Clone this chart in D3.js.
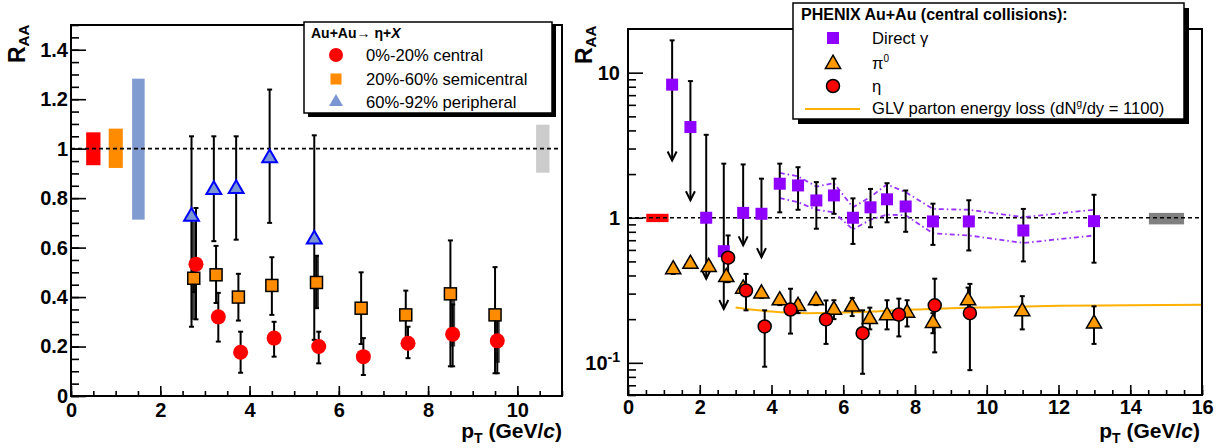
<!DOCTYPE html>
<html><head><meta charset="utf-8">
<script src="https://cdn.jsdelivr.net/npm/d3@7"></script>
<style>
body{margin:0;background:#fff}
svg{display:block}
text{font-family:"Liberation Sans",Arial,Helvetica,sans-serif}
</style>
</head><body>
<svg id="c" width="1223" height="448"></svg>
<script>
// ---------------- LEFT PANEL DATA (Au+Au -> eta + X) ----------------
const centralX  = [2.8, 3.3, 3.8, 4.55, 5.55, 6.55, 7.55, 8.55, 9.55];
const centralY  = [0.533, 0.32, 0.177, 0.234, 0.2, 0.159, 0.213, 0.25, 0.223];
const centralLo = [0.31, 0.22, 0.094, 0.159, 0.132, 0.085, 0.153, 0.12, 0.092];
const centralHi = [0.76, 0.417, 0.26, 0.30, 0.26, 0.234, 0.28, 0.37, 0.33];

const semiX  = [2.75, 3.25, 3.75, 4.5, 5.5, 6.5, 7.5, 8.5, 9.5];
const semiY  = [0.476, 0.49, 0.40, 0.447, 0.459, 0.355, 0.328, 0.413, 0.328];
const semiLo = [0.42, 0.376, 0.305, 0.328, 0.355, 0.21, 0.227, 0.12, 0.092];
const semiHi = [0.53, 0.607, 0.494, 0.561, 0.567, 0.50, 0.426, 0.629, 0.521];

const periphX  = [2.7, 3.2, 3.7, 4.45, 5.45];
const periphY  = [0.726, 0.834, 0.838, 0.962, 0.634];
const periphLo = [0.28, 0.626, 0.632, 0.70, 0.227];
const periphHi = [1.05, 1.05, 1.05, 1.239, 1.054];

// systematic (thick) bars
const sysX  = [2.74, 5.5, 8.55, 9.55];
const sysLo = [0.308, 0.355, 0.20, 0.134];
const sysHi = [0.705, 0.567, 0.40, 0.348];

// global normalisation boxes (x-range, y-range)
const normBoxX0 = [0.34, 0.845, 1.37, 10.42];
const normBoxX1 = [0.66, 1.16, 1.65, 10.72];
const normBoxY0 = [0.933, 0.922, 0.713, 0.903];
const normBoxY1 = [1.066, 1.081, 1.283, 1.097];
const normBoxColor = ["#ff0000", "#ff8c00", "#7f9bd0", "#cccccc"];

const leftXTicks = [0, 2, 4, 6, 8, 10];
const leftYTicks = [0, 0.2, 0.4, 0.6, 0.8, 1, 1.2, 1.4];
const leftLegendLabels = ["0%-20% central", "20%-60% semicentral", "60%-92% peripheral"];

// ---------------- RIGHT PANEL DATA (PHENIX Au+Au central) ----------------
const gammaX  = [1.23, 1.74, 2.18, 2.67, 3.21, 3.72, 4.23, 4.74, 5.25, 5.74, 6.27, 6.76, 7.22, 7.74, 8.5, 9.5, 11.02, 12.99];
const gammaY  = [8.27, 4.22, 1.0, 0.588, 1.08, 1.065, 1.716, 1.67, 1.316, 1.425, 1.0, 1.18, 1.34, 1.196, 0.943, 0.943, 0.817, 0.947];
const gammaHi = [16.7, 8.75, 3.73, 2.36, 2.33, 1.86, 2.36, 2.23, 1.76, 1.86, 1.36, 1.58, 1.73, 1.54, 1.25, 1.32, 1.15, 1.44];
const gammaLo = [2.48, 1.32, 0.38, 0.235, 0.645, 0.535, 1.09, 1.135, 0.84, 1.065, 0.66, 0.86, 0.93, 0.80, 0.65, 0.595, 0.50, 0.49];
const gammaLimit = [1, 1, 1, 1, 1, 1, 0, 0, 0, 0, 0, 0, 0, 0, 0, 0, 0, 0];

const bandX  = [4.23, 4.74, 5.25, 5.74, 6.27, 6.76, 7.22, 7.74, 8.5, 9.5, 11.02, 12.99];
const bandHi = [2.04, 1.93, 1.64, 1.73, 1.18, 1.39, 1.70, 1.50, 1.15, 1.135, 1.01, 1.135];
const bandLo = [1.365, 1.28, 1.135, 1.09, 0.83, 0.97, 1.05, 1.04, 0.78, 0.755, 0.67, 0.755];

const pi0X  = [1.26, 1.74, 2.25, 2.74, 3.21, 3.72, 4.23, 4.74, 5.24, 5.74, 6.25, 6.74, 7.22, 7.78, 8.5, 9.48, 10.99, 12.99];
const pi0Y  = [0.44, 0.48, 0.457, 0.389, 0.324, 0.30, 0.269, 0.246, 0.269, 0.232, 0.244, 0.20, 0.212, 0.221, 0.188, 0.269, 0.226, 0.186];
const pi0Lo = [0.41, 0.45, 0.43, 0.36, 0.30, 0.28, 0.25, 0.22, 0.25, 0.20, 0.21, 0.17, 0.17, 0.178, 0.16, 0.22, 0.17, 0.135];
const pi0Hi = [0.47, 0.51, 0.49, 0.42, 0.35, 0.32, 0.29, 0.27, 0.29, 0.27, 0.28, 0.24, 0.27, 0.27, 0.22, 0.33, 0.288, 0.245];

const etaX  = [2.79, 3.29, 3.81, 4.53, 5.52, 6.54, 7.55, 8.55, 9.53];
const etaY  = [0.53, 0.315, 0.178, 0.233, 0.199, 0.16, 0.215, 0.249, 0.22];
const etaLo = [0.36, 0.23, 0.094, 0.159, 0.135, 0.084, 0.152, 0.118, 0.089];
const etaHi = [0.755, 0.41, 0.23, 0.324, 0.269, 0.23, 0.277, 0.38, 0.35];

const glvX = [3, 3.5, 4, 4.5, 5, 6, 7, 8, 9, 10, 12, 14, 16];
const glvY = [0.241, 0.232, 0.226, 0.222, 0.22, 0.222, 0.227, 0.233, 0.238, 0.241, 0.247, 0.249, 0.251];

const rightBoxX0 = [0.51, 14.52];
const rightBoxX1 = [1.13, 15.5];
const rightBoxY0 = [0.933, 0.90];
const rightBoxY1 = [1.065, 1.08];
const rightBoxColor = ["#ff0000", "#808080"];

const rightXTicks = [0, 2, 4, 6, 8, 10, 12, 14, 16];
const rightYTicks = [0.1, 1, 10];

// ---------------- DRAWING ----------------
const svg = d3.select("#c");
svg.append("rect").attr("width", 1223).attr("height", 448).attr("fill", "#fff");

function styleAxis(g, size) {
  g.attr("font-size", size).attr("font-weight", "bold")
   .attr("font-family", '"Liberation Sans",Arial,sans-serif');
  g.select(".domain").remove();
  g.selectAll(".tick line").attr("stroke", "#000").attr("stroke-width", 1.6);
  g.selectAll(".tick text").attr("fill", "#000");
}

function errorBars(g, xs, ys, lo, hi, x, y, cap) {
  const grp = g.append("g").attr("stroke", "#000").attr("stroke-width", 2);
  xs.forEach((d, i) => {
    grp.append("line").attr("x1", x(d)).attr("x2", x(d)).attr("y1", y(hi[i])).attr("y2", y(lo[i]));
    grp.append("line").attr("x1", x(d) - cap).attr("x2", x(d) + cap).attr("y1", y(hi[i])).attr("y2", y(hi[i]));
    grp.append("line").attr("x1", x(d) - cap).attr("x2", x(d) + cap).attr("y1", y(lo[i])).attr("y2", y(lo[i]));
  });
}

// ======== LEFT ========
const xL = d3.scaleLinear().domain([0, 11]).range([71, 562]);
const yL = d3.scaleLinear().domain([0, 1.5]).range([396, 25]);
const gL = svg.append("g");

normBoxX0.forEach((d, i) => {
  gL.append("rect").attr("x", xL(d)).attr("y", yL(normBoxY1[i]))
    .attr("width", xL(normBoxX1[i]) - xL(d)).attr("height", yL(normBoxY0[i]) - yL(normBoxY1[i]))
    .attr("fill", normBoxColor[i]);
});
gL.append("line").attr("x1", xL(0)).attr("x2", xL(11)).attr("y1", yL(1)).attr("y2", yL(1))
  .attr("stroke", "#000").attr("stroke-width", 1.6).attr("stroke-dasharray", "4,3");

sysX.forEach((d, i) => {
  gL.append("line").attr("x1", xL(d)).attr("x2", xL(d)).attr("y1", yL(sysHi[i])).attr("y2", yL(sysLo[i]))
    .attr("stroke", "#444").attr("stroke-width", 5);
});

errorBars(gL, periphX, periphY, periphLo, periphHi, xL, yL, 2.5);
errorBars(gL, semiX, semiY, semiLo, semiHi, xL, yL, 2.5);
errorBars(gL, centralX, centralY, centralLo, centralHi, xL, yL, 2.5);

const triL = d3.symbol().type(d3.symbolTriangle).size(95);
gL.append("g").selectAll("path").data(periphX).join("path")
  .attr("d", triL).attr("transform", (d, i) => `translate(${xL(d)},${yL(periphY[i])})`)
  .attr("fill", "#7b96d2").attr("stroke", "#0000ff").attr("stroke-width", 2);
gL.append("g").selectAll("rect").data(semiX).join("rect")
  .attr("x", d => xL(d) - 6).attr("y", (d, i) => yL(semiY[i]) - 6).attr("width", 12).attr("height", 12)
  .attr("fill", "#ff8c00").attr("stroke", "#000").attr("stroke-width", 1.5);
gL.append("g").selectAll("circle").data(centralX).join("circle")
  .attr("cx", d => xL(d)).attr("cy", (d, i) => yL(centralY[i])).attr("r", 7.5)
  .attr("fill", "#ff0000");

gL.append("g").attr("transform", "translate(0,396)")
  .call(d3.axisBottom(xL).tickValues(d3.range(0, 11.01, 0.5)).tickSize(-5).tickFormat(""))
  .call(g => styleAxis(g, 20));
gL.append("g").attr("transform", "translate(0,396)")
  .call(d3.axisBottom(xL).tickValues(leftXTicks).tickSize(-10).tickPadding(7).tickFormat(d3.format("d")))
  .call(g => styleAxis(g, 20));
gL.append("g").attr("transform", "translate(71,0)")
  .call(d3.axisLeft(yL).tickValues(d3.range(0, 1.501, 0.05)).tickSize(-8).tickFormat(""))
  .call(g => styleAxis(g, 20));
gL.append("g").attr("transform", "translate(71,0)")
  .call(d3.axisLeft(yL).tickValues(leftYTicks).tickSize(-15).tickPadding(3).tickFormat(d3.format("~g")))
  .call(g => styleAxis(g, 20));

gL.append("rect").attr("x", 71).attr("y", 25).attr("width", 491).attr("height", 371)
  .attr("fill", "none").attr("stroke", "#000").attr("stroke-width", 2);

function raa(g, x, y) {
  const t = g.append("text").attr("transform", `translate(${x},${y}) rotate(-90)`)
    .attr("font-weight", "bold").attr("font-size", 23).attr("fill", "#000");
  t.append("tspan").text("R");
  t.append("tspan").attr("font-size", 15).attr("dy", 4).text("AA");
}
function ptLabel(g, xEnd, y) {
  const t = g.append("text").attr("x", xEnd).attr("y", y).attr("text-anchor", "end")
    .attr("font-weight", "bold").attr("font-size", 21).attr("fill", "#000");
  t.append("tspan").text("p");
  t.append("tspan").attr("font-size", 14).attr("dy", 5).text("T");
  t.append("tspan").attr("dy", -5).text(" (GeV/");
  t.append("tspan").attr("font-style", "italic").text("c");
  t.append("tspan").text(")");
}
raa(gL, 25, 63);
ptLabel(gL, 562, 438);

// legend
const lgL = gL.append("g");
lgL.append("rect").attr("x", 308).attr("y", 26).attr("width", 248).attr("height", 91).attr("fill", "#000");
lgL.append("rect").attr("x", 304).attr("y", 22).attr("width", 248).attr("height", 91)
  .attr("fill", "#fff").attr("stroke", "#000").attr("stroke-width", 1.5);
const ttl = lgL.append("text").attr("x", 311).attr("y", 38).attr("font-size", 14).attr("font-weight", "bold").attr("fill", "#000");
ttl.append("tspan").text("Au+Au→ η+");
ttl.append("tspan").attr("font-style", "italic").text("X");
const legYL = [55, 79, 102];
lgL.append("circle").attr("cx", 336).attr("cy", legYL[0]).attr("r", 7).attr("fill", "#ff0000");
lgL.append("rect").attr("x", 330.5).attr("y", legYL[1] - 5.5).attr("width", 11).attr("height", 11).attr("fill", "#ff8c00");
lgL.append("path").attr("d", d3.symbol().type(d3.symbolTriangle).size(85)).attr("transform", `translate(336,${legYL[2]})`).attr("fill", "#7b96d2");
leftLegendLabels.forEach((s, i) => {
  lgL.append("text").attr("x", 366).attr("y", legYL[i] + 6).attr("font-size", 16.6).attr("fill", "#000").text(s);
});

// ======== RIGHT ========
const xR = d3.scaleLinear().domain([0, 16]).range([628, 1202]);
const yR = d3.scaleLog().domain([0.06, 20]).range([395, 29]);
const gR = svg.append("g");

rightBoxX0.forEach((d, i) => {
  gR.append("rect").attr("x", xR(d)).attr("y", yR(rightBoxY1[i]))
    .attr("width", xR(rightBoxX1[i]) - xR(d)).attr("height", yR(rightBoxY0[i]) - yR(rightBoxY1[i]))
    .attr("fill", rightBoxColor[i]);
});
gR.append("line").attr("x1", xR(0)).attr("x2", xR(16)).attr("y1", yR(1)).attr("y2", yR(1))
  .attr("stroke", "#000").attr("stroke-width", 1.6).attr("stroke-dasharray", "4,3");

const bandLine = d3.line().x(d => xR(d[0])).y(d => yR(d[1]));
[bandHi, bandLo].forEach(arr => {
  gR.append("path").attr("d", bandLine(bandX.map((d, i) => [d, arr[i]])))
    .attr("fill", "none").attr("stroke", "#9933ff").attr("stroke-width", 1.8).attr("stroke-dasharray", "5,3,1.5,3");
});

gR.append("path").attr("d", d3.line().curve(d3.curveMonotoneX).x(d => xR(d[0])).y(d => yR(d[1]))(glvX.map((d, i) => [d, glvY[i]])))
  .attr("fill", "none").attr("stroke", "#ffb000").attr("stroke-width", 2);

const ge = gR.append("g").attr("stroke", "#000").attr("stroke-width", 2).attr("fill", "none");
gammaX.forEach((d, i) => {
  const x = xR(d), yh = yR(gammaHi[i]), yl = yR(gammaLo[i]);
  ge.append("line").attr("x1", x).attr("x2", x).attr("y1", yh).attr("y2", yl);
  ge.append("line").attr("x1", x - 2.5).attr("x2", x + 2.5).attr("y1", yh).attr("y2", yh);
  if (gammaLimit[i]) {
    ge.append("path").attr("d", `M${x - 4.5},${yl - 9}L${x},${yl}L${x + 4.5},${yl - 9}`);
  } else {
    ge.append("line").attr("x1", x - 2.5).attr("x2", x + 2.5).attr("y1", yl).attr("y2", yl);
  }
});
errorBars(gR, pi0X, pi0Y, pi0Lo, pi0Hi, xR, yR, 2.5);
errorBars(gR, etaX, etaY, etaLo, etaHi, xR, yR, 2.5);

gR.append("g").selectAll("rect").data(gammaX).join("rect")
  .attr("x", d => xR(d) - 6).attr("y", (d, i) => yR(gammaY[i]) - 6).attr("width", 12).attr("height", 12)
  .attr("fill", "#8f00ff");
const triR = d3.symbol().type(d3.symbolTriangle).size(100);
gR.append("g").selectAll("path").data(pi0X).join("path")
  .attr("d", triR).attr("transform", (d, i) => `translate(${xR(d)},${yR(pi0Y[i])})`)
  .attr("fill", "#ff9900").attr("stroke", "#000").attr("stroke-width", 1.5);
gR.append("g").selectAll("circle").data(etaX).join("circle")
  .attr("cx", d => xR(d)).attr("cy", (d, i) => yR(etaY[i])).attr("r", 6.5)
  .attr("fill", "#ff0000").attr("stroke", "#000").attr("stroke-width", 1.5);

gR.append("g").attr("transform", "translate(0,395)")
  .call(d3.axisBottom(xR).tickValues(d3.range(0, 16.01, 0.5)).tickSize(-5).tickFormat(""))
  .call(g => styleAxis(g, 20));
gR.append("g").attr("transform", "translate(0,395)")
  .call(d3.axisBottom(xR).tickValues(rightXTicks).tickSize(-10).tickPadding(5).tickFormat(d3.format("d")))
  .call(g => styleAxis(g, 20));
const minorLog = [0.06, 0.07, 0.08, 0.09, 0.2, 0.3, 0.4, 0.5, 0.6, 0.7, 0.8, 0.9, 2, 3, 4, 5, 6, 7, 8, 9];
gR.append("g").attr("transform", "translate(628,0)")
  .call(d3.axisLeft(yR).tickValues(minorLog).tickSize(-8).tickFormat(""))
  .call(g => styleAxis(g, 20));
gR.append("g").attr("transform", "translate(628,0)")
  .call(d3.axisLeft(yR).tickValues(rightYTicks).tickSize(-15).tickPadding(8).tickFormat(d => d < 1 ? "10" : String(d)))
  .call(g => styleAxis(g, 20))
  .call(g => g.selectAll(".tick text").each(function (d) {
    if (d < 1) d3.select(this).append("tspan").attr("dy", "-0.55em").attr("font-size", 14).text("-1");
  }));

gR.append("rect").attr("x", 628).attr("y", 29).attr("width", 574).attr("height", 366)
  .attr("fill", "none").attr("stroke", "#000").attr("stroke-width", 2);

raa(gR, 592, 64);
ptLabel(gR, 1200, 438);

// legend
const lgR = gR.append("g");
lgR.append("rect").attr("x", 798).attr("y", 8).attr("width", 391).attr("height", 116).attr("fill", "#000");
lgR.append("rect").attr("x", 793).attr("y", 3).attr("width", 391).attr("height", 116)
  .attr("fill", "#fff").attr("stroke", "#000").attr("stroke-width", 1.5);
lgR.append("text").attr("x", 801).attr("y", 20).attr("font-size", 16).attr("font-weight", "bold").attr("fill", "#000")
  .text("PHENIX Au+Au (central collisions):");
const legYR = [38, 63, 86, 109];
lgR.append("rect").attr("x", 827).attr("y", legYR[0] - 6).attr("width", 12).attr("height", 12).attr("fill", "#8f00ff");
lgR.append("path").attr("d", triR).attr("transform", `translate(833,${legYR[1] + 1})`)
  .attr("fill", "#ff9900").attr("stroke", "#000").attr("stroke-width", 1.5);
lgR.append("circle").attr("cx", 833).attr("cy", legYR[2]).attr("r", 6.5)
  .attr("fill", "#ff0000").attr("stroke", "#000").attr("stroke-width", 1.5);
lgR.append("line").attr("x1", 805).attr("x2", 860).attr("y1", legYR[3]).attr("y2", legYR[3])
  .attr("stroke", "#ffb000").attr("stroke-width", 2);
const tx = 872, fs = 16.6;
lgR.append("text").attr("x", tx).attr("y", legYR[0] + 5.5).attr("font-size", fs).attr("fill", "#000").text("Direct γ");
const tp = lgR.append("text").attr("x", tx).attr("y", legYR[1] + 5.5).attr("font-size", fs).attr("fill", "#000");
tp.append("tspan").text("π");
tp.append("tspan").attr("dy", -7).attr("font-size", 10).text("0");
lgR.append("text").attr("x", tx).attr("y", legYR[2] + 5.5).attr("font-size", fs).attr("fill", "#000").text("η");
const tg = lgR.append("text").attr("x", tx).attr("y", legYR[3] + 5).attr("font-size", fs).attr("fill", "#000");
tg.append("tspan").text("GLV parton energy loss (dN");
tg.append("tspan").attr("dy", -7).attr("font-size", 10).text("g");
tg.append("tspan").attr("dy", 7).text("/dy = 1100)");
</script>
</body></html>
